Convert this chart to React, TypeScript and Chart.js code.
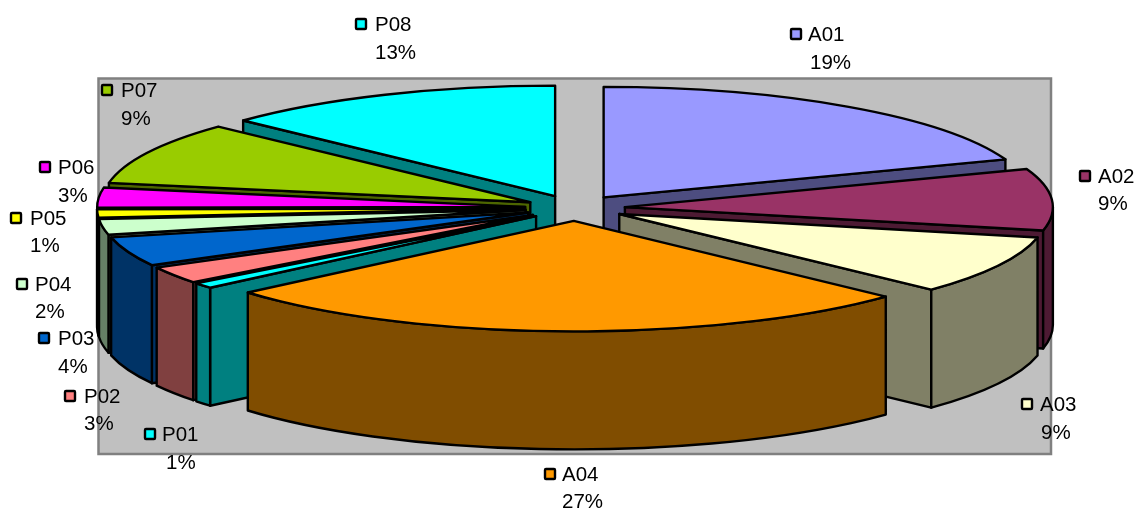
import React, { useEffect, useRef } from "react";
import { Chart, registerables } from "chart.js";

Chart.register(...registerables);

const categories = ["A01", "A02", "A03", "A04", "P01", "P02", "P03", "P04", "P05", "P06", "P07", "P08"];
const shares = [19.4, 9, 8.6, 26.78, 0.82, 2.5, 4.3, 2.3, 1.2, 2.9, 9.2, 13];
const topColors = ["#9999FF", "#993366", "#FFFFCC", "#FF9900", "#00FFFF", "#FF8080", "#0066CC", "#CCFFCC", "#FFFF00", "#FF00FF", "#99CC00", "#00FFFF"];
const wallColors = ["#4D4D80", "#4D1A33", "#808066", "#804D00", "#008080", "#804040", "#003366", "#668066", "#808000", "#800080", "#4D6600", "#008080"];

// Hand-placed label blocks: [key left, name left, name y, percent left, percent y]
const labelLayout = [
  [790, 808, 34, 810, 62],
  [1079, 1098, 176, 1098, 203],
  [1021, 1040, 404, 1041, 432],
  [544, 562, 474, 562, 501],
  [144, 162, 434, 166, 462],
  [64, 84, 396, 84, 423],
  [38, 58, 338, 58, 366],
  [16, 35, 284, 35, 311],
  [10, 30, 218, 30, 245],
  [39, 58, 167, 58, 195],
  [101, 121, 90, 121, 118],
  [355, 375, 24, 375, 52],
];

const SQUASH = 110.5 / 428;
const DEPTH = 118;
const EDGE = "#000000";

const backdrop = {
  id: "backdrop",
  beforeDraw(chart: any) {
    const { ctx } = chart;
    ctx.save();
    ctx.fillStyle = "#C0C0C0";
    ctx.strokeStyle = "#808080";
    ctx.lineWidth = 2.5;
    ctx.beginPath();
    ctx.rect(98.5, 78.5, 952.5, 375.5);
    ctx.fill();
    ctx.stroke();
    ctx.restore();
  },
};

const pie3d = {
  id: "pie3d",
  beforeDatasetsDraw(chart: any) {
    const { ctx } = chart;
    const meta = chart.getDatasetMeta(0);
    const order = meta.data
      .map((arc: any, i: number) => ({ arc, i, mid: (arc.startAngle + arc.endAngle) / 2 }))
      .sort((a: any, b: any) => Math.sin(a.mid) - Math.sin(b.mid));

    ctx.save();
    ctx.lineWidth = 2.4;
    ctx.lineJoin = "round";
    ctx.strokeStyle = EDGE;

    for (const { arc, i, mid } of order) {
      const rx = arc.outerRadius;
      const ry = rx * SQUASH;
      const off = arc.options.offset;
      const cx = arc.x + Math.cos(mid) * off;
      const cy = arc.y + Math.sin(mid) * off * SQUASH;
      const a0 = arc.startAngle;
      const a1 = arc.endAngle;
      const px = (a: number) => cx + rx * Math.cos(a);
      const py = (a: number) => cy + ry * Math.sin(a);

      // radial side walls: only those that face the viewer
      ctx.fillStyle = wallColors[i];
      const radial: number[] = [];
      if (Math.cos(a0) < 0) radial.push(a0);
      if (Math.cos(a1) > 0) radial.push(a1);
      for (const a of radial) {
        ctx.beginPath();
        ctx.moveTo(cx, cy);
        ctx.lineTo(px(a), py(a));
        ctx.lineTo(px(a), py(a) + DEPTH);
        ctx.lineTo(cx, cy + DEPTH);
        ctx.closePath();
        ctx.fill();
        ctx.stroke();
      }

      // curved outer wall, only the part that faces the viewer
      const v0 = Math.max(a0, 0);
      const v1 = Math.min(a1, Math.PI);
      if (v1 > v0) {
        ctx.beginPath();
        ctx.ellipse(cx, cy, rx, ry, 0, v0, v1, false);
        ctx.lineTo(px(v1), py(v1) + DEPTH);
        ctx.ellipse(cx, cy + DEPTH, rx, ry, 0, v1, v0, true);
        ctx.closePath();
        ctx.fill();
        ctx.stroke();
      }

      // top face
      ctx.fillStyle = arc.options.backgroundColor;
      ctx.beginPath();
      ctx.moveTo(cx, cy);
      ctx.ellipse(cx, cy, rx, ry, 0, a0, a1, false);
      ctx.closePath();
      ctx.fill();
      ctx.stroke();
    }
    ctx.restore();
    return false;
  },
  afterDraw(chart: any) {
    const { ctx } = chart;
    const meta = chart.getDatasetMeta(0);
    ctx.save();
    ctx.font = '20.5px "Liberation Sans", Arial, sans-serif';
    ctx.textBaseline = "middle";
    ctx.textAlign = "left";
    categories.forEach((name, i) => {
      const [keyX, nameX, nameY, pctX, pctY] = labelLayout[i];
      ctx.fillStyle = meta.data[i].options.backgroundColor;
      ctx.strokeStyle = "#000000";
      ctx.lineWidth = 2.4;
      ctx.beginPath();
      ctx.roundRect(keyX + 1, nameY - 5, 10, 10, 1);
      ctx.fill();
      ctx.stroke();
      ctx.fillStyle = "#000000";
      ctx.fillText(name, nameX, nameY + 1);
      ctx.fillText(`${Math.round(shares[i])}%`, pctX, pctY + 1);
    });
    ctx.restore();
  },
};

export default function App() {
  const ref = useRef<HTMLCanvasElement>(null);
  useEffect(() => {
    document.body.style.margin = "0";
    const chart = new Chart(ref.current as HTMLCanvasElement, {
      type: "pie",
      data: {
        labels: categories,
        datasets: [{ data: shares, backgroundColor: topColors, offset: 50, radius: 428, borderWidth: 0 } as any],
      },
      options: {
        animation: false,
        responsive: false,
        layout: { padding: { left: 12, bottom: 92 } },
        plugins: { legend: { display: false }, tooltip: { enabled: false } },
      },
      plugins: [backdrop, pie3d],
    } as any);
    return () => chart.destroy();
  }, []);
  return <canvas ref={ref} width={1138} height={508} style={{ display: "block" }} />;
}
